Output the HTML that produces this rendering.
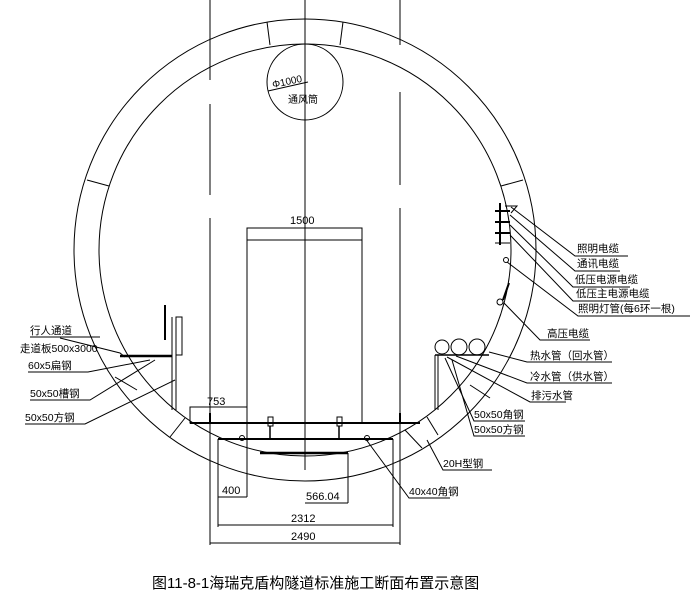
<!DOCTYPE html>
<html><head><meta charset="utf-8"><style>
html,body{margin:0;padding:0;background:#fff;}
svg{display:block}
text{font-family:"Liberation Sans","Noto Sans CJK SC",sans-serif;fill:#000;}
</style></head><body>
<svg width="694" height="602" viewBox="0 0 694 602" xmlns="http://www.w3.org/2000/svg">
<g fill="none" stroke="#000" stroke-width="1">
<!-- ring -->
<circle cx="305" cy="250" r="231"/>
<circle cx="305" cy="250" r="206"/>
<!-- segment joints -->
<line x1="267" y1="22" x2="270" y2="45"/>
<line x1="343" y1="22" x2="340" y2="45"/>
<line x1="87" y1="180" x2="109" y2="186"/>
<line x1="523" y1="180" x2="501" y2="186"/>
<line x1="115" y1="377" x2="137" y2="390"/>
<line x1="170" y1="437" x2="185" y2="418"/>
<line x1="405" y1="430" x2="422" y2="448"/>
<line x1="427" y1="417" x2="438" y2="435"/>
<line x1="470" y1="385" x2="490" y2="398"/>
<!-- center lines -->
<line x1="305" y1="0" x2="305" y2="470"/>
<line x1="210" y1="0" x2="210" y2="80"/><line x1="210" y1="104" x2="210" y2="195"/><line x1="210" y1="218" x2="210" y2="545"/>
<line x1="400" y1="0" x2="400" y2="45"/><line x1="400" y1="92" x2="400" y2="185"/><line x1="400" y1="208" x2="400" y2="545"/>
<!-- vent -->
<circle cx="305" cy="82" r="38"/>
<line x1="268" y1="91" x2="308" y2="82"/>
<!-- car box -->
<rect x="247" y="228" width="115" height="195"/>
<line x1="247" y1="240" x2="362" y2="240"/>
<!-- floor -->
<line x1="190" y1="423" x2="420" y2="423" stroke-width="2"/>
<line x1="218" y1="439" x2="393" y2="439" stroke-width="2"/>
<rect x="190" y="407" width="57" height="16"/>
<line x1="260" y1="453" x2="348" y2="453" stroke-width="2.5"/>
<line x1="348" y1="453" x2="348" y2="503"/>
<line x1="305" y1="503" x2="348" y2="503"/>
<line x1="218" y1="439" x2="218" y2="527"/>
<line x1="393" y1="439" x2="393" y2="527"/>
<line x1="247" y1="423" x2="247" y2="497"/>
<line x1="218" y1="497" x2="247" y2="497"/>
<line x1="218" y1="525" x2="393" y2="525"/>
<line x1="210" y1="543" x2="400" y2="543"/>
<!-- posts on floor -->
<line x1="210" y1="413" x2="210" y2="423" stroke-width="2"/>
<line x1="400" y1="413" x2="400" y2="423" stroke-width="2"/>
<rect x="268" y="417" width="5" height="9"/>
<line x1="270" y1="426" x2="270" y2="439" stroke-width="1.5"/>
<rect x="337" y="417" width="5" height="9"/>
<line x1="339" y1="426" x2="339" y2="439" stroke-width="1.5"/>
<circle cx="242" cy="438" r="2.5"/><circle cx="367" cy="438" r="2.5"/>
<!-- left walkway -->
<line x1="120" y1="356" x2="172" y2="356" stroke-width="2.5"/>
<line x1="172" y1="317" x2="172" y2="410"/>
<line x1="176" y1="317" x2="176" y2="410"/>
<rect x="176" y="317" width="6" height="38"/>
<line x1="165" y1="305" x2="165" y2="340" stroke-width="2"/>
<!-- pipes right -->
<circle cx="442" cy="347" r="7"/><circle cx="459" cy="347" r="8"/><circle cx="477" cy="347" r="8"/>
<line x1="435" y1="355" x2="489" y2="355" stroke-width="1.5"/>
<line x1="435" y1="355" x2="435" y2="410"/>
<line x1="438" y1="355" x2="438" y2="410"/>
<!-- cable brackets -->
<line x1="495" y1="211" x2="510" y2="211" stroke-width="2"/>
<line x1="495" y1="222" x2="510" y2="222" stroke-width="2"/>
<line x1="495" y1="233" x2="510" y2="233" stroke-width="2"/>
<line x1="495" y1="243" x2="510" y2="243"/>
<line x1="500" y1="203" x2="500" y2="245" stroke-width="2"/>
<polyline points="505,206 517,206 511,213"/>
<circle cx="506" cy="260" r="2.5"/>
<line x1="509" y1="283" x2="503" y2="300" stroke-width="2"/>
<circle cx="500" cy="302" r="3"/>
<!-- leaders left -->
<line x1="30" y1="337" x2="100" y2="337"/>
<polyline points="60,338 120,353 125,357"/>
<polyline points="28,372 88,372 150,360"/>
<polyline points="30,400 90,400 155,360"/>
<polyline points="25,424 85,424 175,380"/>
<!-- leaders right -->
<polyline points="511,207 575,256 628,256"/>
<polyline points="510,215 575,271 620,271"/>
<polyline points="510,225 573,287 630,287"/>
<polyline points="510,235 573,301 650,301"/>
<polyline points="507,262 578,316 690,316"/>
<polyline points="504,303 540,340 590,340"/>
<polyline points="489,352 527,362 612,362"/>
<polyline points="456,356 527,383 612,383"/>
<polyline points="447,357 530,402 566,402"/>
<polyline points="445,358 474,421 525,421"/>
<polyline points="452,360 474,436 525,436"/>
<polyline points="427,440 443,470 492,470"/>
<polyline points="365,438 409,498 450,498"/>
</g>
<g font-size="10.5">
<text x="290" y="224" font-size="11">1500</text>
<text x="273" y="88" font-size="10" transform="rotate(-12 273 88)">Φ1000</text>
<text x="288" y="103" font-size="10">通风筒</text>
<text x="207" y="405" font-size="11">753</text>
<text x="222" y="494" font-size="11">400</text>
<text x="306" y="500" font-size="11">566.04</text>
<text x="291" y="522" font-size="11">2312</text>
<text x="291" y="540" font-size="11">2490</text>
<text x="30" y="334">行人通道</text>
<text x="20" y="352">走道板500x3000</text>
<text x="28" y="369">60x5扁钢</text>
<text x="30" y="397">50x50槽钢</text>
<text x="25" y="421">50x50方钢</text>
<text x="577" y="252">照明电缆</text>
<text x="577" y="267">通讯电缆</text>
<text x="575" y="283">低压电源电缆</text>
<text x="576" y="297">低压主电源电缆</text>
<text x="578" y="312">照明灯管(每6环一根)</text>
<text x="547" y="337">高压电缆</text>
<text x="530" y="359">热水管（回水管）</text>
<text x="530" y="380">冷水管（供水管）</text>
<text x="531" y="399">排污水管</text>
<text x="474" y="418">50x50角钢</text>
<text x="474" y="433">50x50方钢</text>
<text x="443" y="467">20H型钢</text>
<text x="409" y="495">40x40角钢</text>
<text x="152" y="588" font-size="15">图11-8-1海瑞克盾构隧道标准施工断面布置示意图</text>
</g>
</svg>
</body></html>
